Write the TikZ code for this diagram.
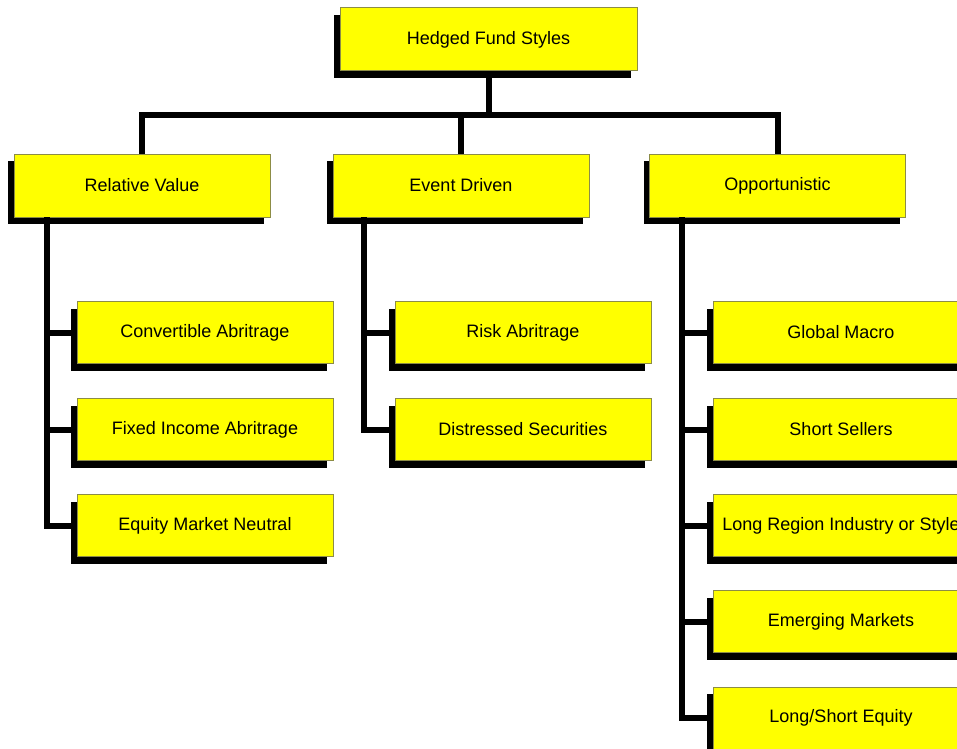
\documentclass[tikz,border=0pt]{standalone}
\usepackage{fontspec}
\setmainfont{Liberation Sans}
\usetikzlibrary{shadows}
\definecolor{boxyellow}{RGB}{255,255,0}
\definecolor{boxedge}{RGB}{140,140,70}
\begin{document}
\begin{tikzpicture}[x=0.75pt,y=-0.75pt,
  fundbox/.style={rectangle, fill=boxyellow, draw=boxedge, line width=0.75pt,
    inner sep=0pt, minimum width=192pt, minimum height=46.5pt,
    font=\fontsize{13.5}{16}\selectfont,
    general shadow={shadow xshift=-4.5pt, shadow yshift=-5.25pt, fill=black, draw=none}},
  topbox/.style={fundbox, minimum width=222.75pt, minimum height=47.25pt},
  link/.style={line width=4.5pt, black, line cap=butt, line join=miter}]
\useasboundingbox (0,0) rectangle (957,749);
\clip (0,0) rectangle (957,749);
% top
\node[topbox] (top) at (488.5,39.5) {Hedged Fund Styles};
% level 1
\node[fundbox, minimum height=47.25pt] (rv) at (142,185.5) {Relative Value};
\node[fundbox, minimum height=47.25pt] (ed) at (461,185.5) {Event Driven};
\node[fundbox, minimum height=47.25pt] (op) at (777.5,185.5) {Opportunistic};
% relative value children
\node[fundbox] (ca) at (205,332.5) {Convertible Abritrage};
\node[fundbox] (fi) at (205,429.5) {Fixed Income Abritrage};
\node[fundbox] (em) at (205,525.5) {Equity Market Neutral};
% event driven children
\node[fundbox] (ra) at (523,332.5) {Risk Abritrage};
\node[fundbox] (ds) at (523,429.5) {Distressed Securities};
% opportunistic children
\node[fundbox] (gm) at (841,332.5) {Global Macro};
\node[fundbox] (ss) at (841,429.5) {Short Sellers};
\node[fundbox] (lr) at (841,525.5) {Long Region Industry or Style};
\node[fundbox] (emk) at (841,621.5) {Emerging Markets};
\node[fundbox] (lse) at (841,718) {Long/Short Equity};
% connectors
\coordinate (bar) at (488.5,115.5);
\draw[link] (top.south) -- (top.south |- bar);
\draw[link, line cap=rect] (rv.north |- bar) -- (op.north |- bar);
\draw[link] (rv.north |- bar) -- (rv.north);
\draw[link] (ed.north |- bar) -- (ed.north);
\draw[link] (op.north |- bar) -- (op.north);
% trunks
\coordinate (rvt) at (47,217);
\coordinate (edt) at (364,217);
\coordinate (opt) at (682,217);
\draw[link] (rvt) |- (em.west);
\draw[link] (rvt |- ca.west) -- (ca.west);
\draw[link] (rvt |- fi.west) -- (fi.west);
\draw[link] (edt) |- (ds.west);
\draw[link] (edt |- ra.west) -- (ra.west);
\draw[link] (opt) |- (lse.west);
\draw[link] (opt |- gm.west) -- (gm.west);
\draw[link] (opt |- ss.west) -- (ss.west);
\draw[link] (opt |- lr.west) -- (lr.west);
\draw[link] (opt |- emk.west) -- (emk.west);
\end{tikzpicture}
\end{document}
